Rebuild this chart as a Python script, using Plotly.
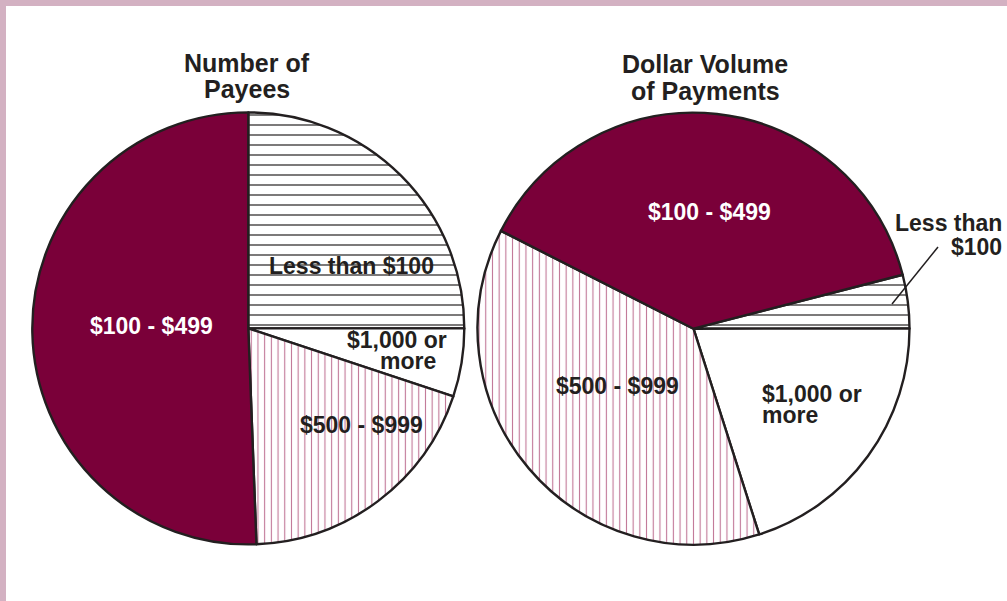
import plotly.graph_objects as go

# ---- data ----
categories = ["Less than $100", "$1,000 or more", "$500 - $999", "$100 - $499"]
payees_share = [25.0, 5.1, 19.3, 50.6]          # % of number of payees
dollar_share = [4.0, 20.1, 37.4, 38.5]          # % of dollar volume

# ---- style ----
W, H = 1007, 601
MAROON = "#7a0039"
STRIPE = "#c07495"
INK = "#231f20"
BORDER = "#d3b1c2"
FONT = "Liberation Sans, Arial, sans-serif"

colors = ["white", "white", "white", MAROON]
pattern = dict(
    shape=["-", "", "|", ""],
    fgcolor=[INK, "white", STRIPE, MAROON],
    bgcolor=["white", "white", "white", MAROON],
    size=[10, 10, 6.7, 10],
    solidity=[0.12, 0.2, 0.16, 0.2],
)


def px_x(x):
    return x / W


def px_y(y):
    return 1 - y / H


def pie(values, cx, cy, r, rotation):
    return go.Pie(
        labels=categories,
        values=values,
        sort=False,
        direction="clockwise",
        rotation=rotation,
        textinfo="none",
        hoverinfo="label+percent",
        showlegend=False,
        marker=dict(colors=colors, line=dict(color=INK, width=2.4), pattern=pattern),
        domain=dict(x=[px_x(cx - r), px_x(cx + r)], y=[px_y(cy + r), px_y(cy - r)]),
    )


fig = go.Figure()
fig.add_trace(pie(payees_share, 248.3, 328.4, 216, 0))
fig.add_trace(pie(dollar_share, 693.5, 328.7, 216, 75.54))

annotations = []


def label(text, x, y, color=INK, xanchor="center", size=23):
    annotations.append(dict(
        text=text, x=px_x(x), y=px_y(y), xref="paper", yref="paper",
        xanchor=xanchor, yanchor="middle", showarrow=False,
        font=dict(family=FONT, size=size, color=color, weight=700),
    ))


# titles
label("Number of", 247, 63, size=25)
label("Payees", 247, 89, size=25)
label("Dollar Volume", 705, 64, size=25)
label("of Payments", 705, 91, size=25)

# left pie labels
label("$100 - $499", 151, 326, color="white")
label("Less than $100", 351, 266)
label("$1,000 or", 397, 340)
label("more", 408, 361)
label("$500 - $999", 361, 425)

# right pie labels
label("$100 - $499", 709, 212, color="white")
label("$500 - $999", 617, 386)
label("$1,000 or", 760, 394, xanchor="left")
label("more", 760, 415, xanchor="left")
label("Less than", 1004, 223, xanchor="right")
label("$100", 1004, 247, xanchor="right")

fig.update_layout(
    width=W, height=H,
    margin=dict(l=0, r=0, t=0, b=0),
    paper_bgcolor="white",
    plot_bgcolor="white",
    annotations=annotations,
    shapes=[
        dict(type="rect", xref="paper", yref="paper", x0=0, x1=px_x(6), y0=0, y1=1,
             fillcolor=BORDER, line=dict(width=0), layer="above"),
        dict(type="rect", xref="paper", yref="paper", x0=0, x1=1, y0=px_y(6), y1=1,
             fillcolor=BORDER, line=dict(width=0), layer="above"),
        dict(type="line", xref="paper", yref="paper",
             x0=px_x(938), y0=px_y(247), x1=px_x(892), y1=px_y(304),
             line=dict(color=INK, width=1.5), layer="above"),
    ],
)

fig.write_html(
    "out.html",
    config={"displayModeBar": False},
    post_script="document.body.style.margin='0';document.body.style.overflow='hidden';",
)
